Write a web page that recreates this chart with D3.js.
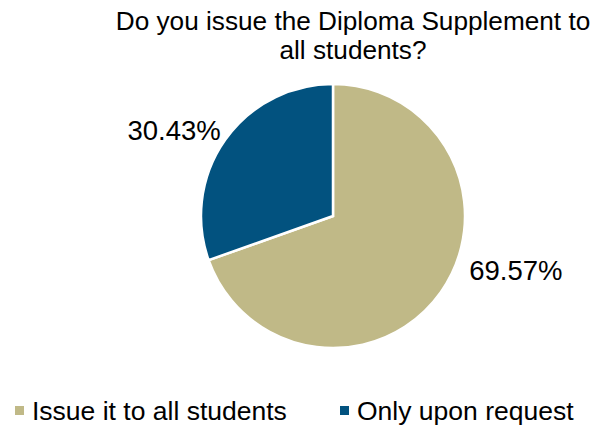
<!DOCTYPE html>
<html><head><meta charset="utf-8">
<script src="https://cdn.jsdelivr.net/npm/d3@7"></script>
<style>body{margin:0;background:#fff}svg{display:block}text{font-family:"Liberation Sans",Arial,sans-serif;fill:#000}</style>
</head><body>
<script>
const categories = ["Issue it to all students", "Only upon request"];
const values = [69.57, 30.43];
const colors = ["#C0B987", "#02527F"];
const titleLines = ["Do you issue the Diploma Supplement to", "all students?"];

const W = 598, H = 427;
const svg = d3.select("body").append("svg").attr("width", W).attr("height", H);

const titleSize = 26.2;
svg.append("text").attr("x", 353).attr("y", 29.5).attr("text-anchor", "middle")
  .style("font-size", titleSize + "px").text(titleLines[0]);
svg.append("text").attr("x", 353).attr("y", 59).attr("text-anchor", "middle")
  .style("font-size", titleSize + "px").text(titleLines[1]);

const cx = 333, cy = 216, r = 132;
const pie = d3.pie().sort(null).value(d => d)(values);
const arc = d3.arc().innerRadius(0).outerRadius(r);
const g = svg.append("g").attr("transform", `translate(${cx},${cy})`);
g.selectAll("path").data(pie).join("path")
  .attr("d", arc).attr("fill", (d, i) => colors[i])
  .attr("stroke", "#fff").attr("stroke-width", 2.5).attr("stroke-linejoin", "miter");

// outside-end label placement (Excel style), nudged per quadrant
const labelArc = d3.arc().innerRadius(170).outerRadius(170);
const nudge = [[44, -44], [-20, 12]];
g.selectAll("text.lbl").data(pie).join("text").attr("class", "lbl")
  .attr("transform", (d, i) => { const c = labelArc.centroid(d); return `translate(${c[0] + nudge[i][0]},${c[1] + nudge[i][1]})`; })
  .attr("text-anchor", "middle").attr("dy", "0.35em")
  .style("font-size", "27.5px").text(d => d.data.toFixed(2) + "%");

const legX = [15, 340];
const leg = svg.append("g");
categories.forEach((c, i) => {
  leg.append("rect").attr("x", legX[i]).attr("y", 406).attr("width", 9).attr("height", 9).attr("fill", colors[i]);
  leg.append("text").attr("x", legX[i] + 17).attr("y", 420).style("font-size", "26.5px").text(c);
});
</script>
</body></html>
